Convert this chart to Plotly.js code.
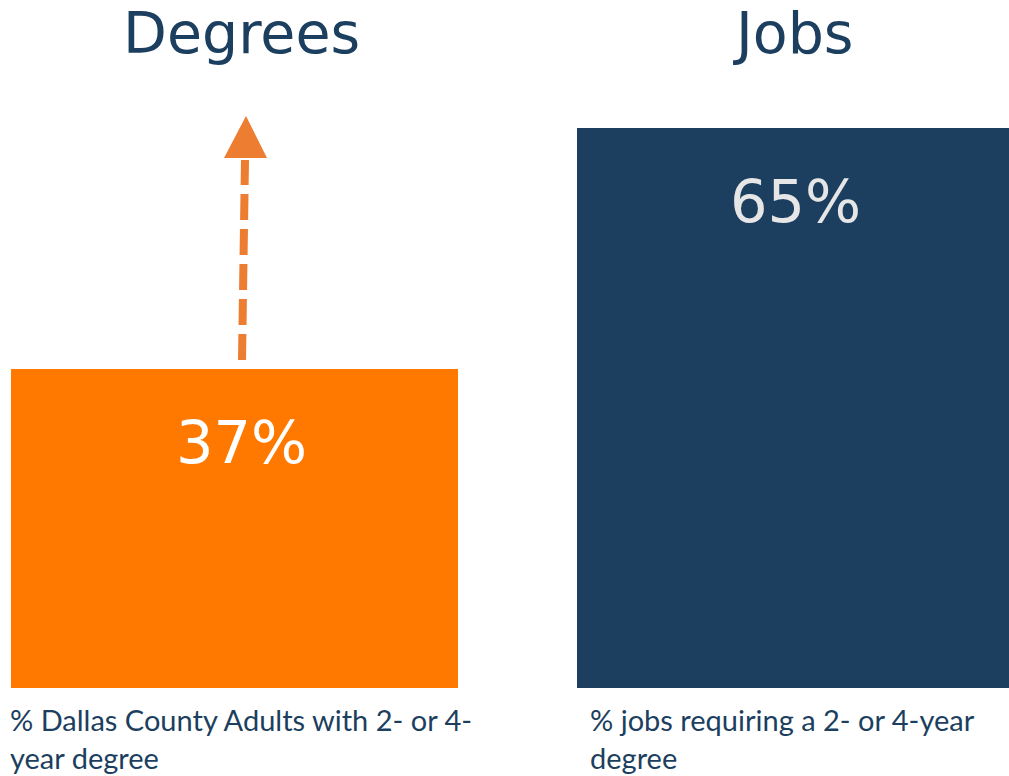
<!DOCTYPE html>
<html>
<head>
<meta charset="utf-8">
<script src="https://cdn.plot.ly/plotly-3.0.1.min.js"></script>
<style>html,body{margin:0;padding:0;background:#fff;}#chart{width:1009px;height:776px;}</style>
</head>
<body>
<div id="chart"></div>
<script>
const groups = ["Degrees", "Jobs"];
const values = [37, 65];
const valueLabels = ["37%", "65%"];
const descriptions = ["% Dallas County Adults with 2- or 4-<br>year degree", "% jobs requiring a 2- or 4-year<br>degree"];
const barColors = ["#FF7900", "#1C3F60"];
const labelColors = ["#FFFFFF", "#E6E6E6"];

const W = 1009, H = 776, PH = 688;
const titleColor = "#1C3F60";

const traces = groups.map((g, i) => ({
  type: "bar",
  x: [g],
  y: [values[i]],
  width: [1],
  marker: {color: barColors[i]},
  xaxis: i === 0 ? "x" : "x2",
  yaxis: "y",
  hoverinfo: "skip",
  showlegend: false
}));

const annotations = [];
const titleX = [241 / W, 793 / W];
const descX = [8 / W, 588 / W];
const valShift = [7, 2];
groups.forEach((g, i) => {
  annotations.push({
    text: g, xref: "paper", yref: "paper", x: titleX[i], y: 1, yanchor: "top", xanchor: "center",
    yshift: 2, showarrow: false, font: {family: "DejaVu Sans", size: 57, color: titleColor}
  });
  annotations.push({
    text: valueLabels[i], xref: i === 0 ? "x" : "x2", yref: "y", x: g, y: values[i],
    yanchor: "middle", xanchor: "center", yshift: -73, xshift: valShift[i], showarrow: false,
    font: {family: "DejaVu Sans", size: 59, color: labelColors[i]}
  });
  annotations.push({
    text: descriptions[i], xref: "paper", yref: "paper", x: descX[i], y: 0, yanchor: "top", xanchor: "left",
    align: "left", yshift: -12, showarrow: false,
    font: {family: "Lato", size: 29, color: titleColor}
  });
});

const arrowColor = "#ED7D31";
const py = p => (PH - p) / PH;
const shapes = [
  {type: "line", xref: "paper", yref: "paper", x0: 242 / W, y0: py(360), x1: 245 / W, y1: py(160),
   line: {color: arrowColor, width: 8, dash: "26px,9px"}},
  {type: "path", xref: "paper", yref: "paper",
   path: `M ${224 / W} ${py(158)} L ${267 / W} ${py(158)} L ${246 / W} ${py(116)} Z`,
   fillcolor: arrowColor, line: {width: 0}}
];

const yTop = 65 * PH / 560;
const layout = {
  width: W, height: H,
  margin: {l: 0, r: 0, t: 0, b: H - PH},
  paper_bgcolor: "#fff", plot_bgcolor: "#fff",
  bargap: 0,
  xaxis: {domain: [11 / W, 458 / W], range: [-0.5, 0.5], visible: false, fixedrange: true},
  xaxis2: {domain: [577 / W, 1], range: [-0.5, 0.5], visible: false, fixedrange: true, anchor: "y"},
  yaxis: {range: [0, yTop], visible: false, fixedrange: true},
  annotations: annotations,
  shapes: shapes
};

Plotly.newPlot("chart", traces, layout, {displayModeBar: false, staticPlot: true});
</script>
</body>
</html>
